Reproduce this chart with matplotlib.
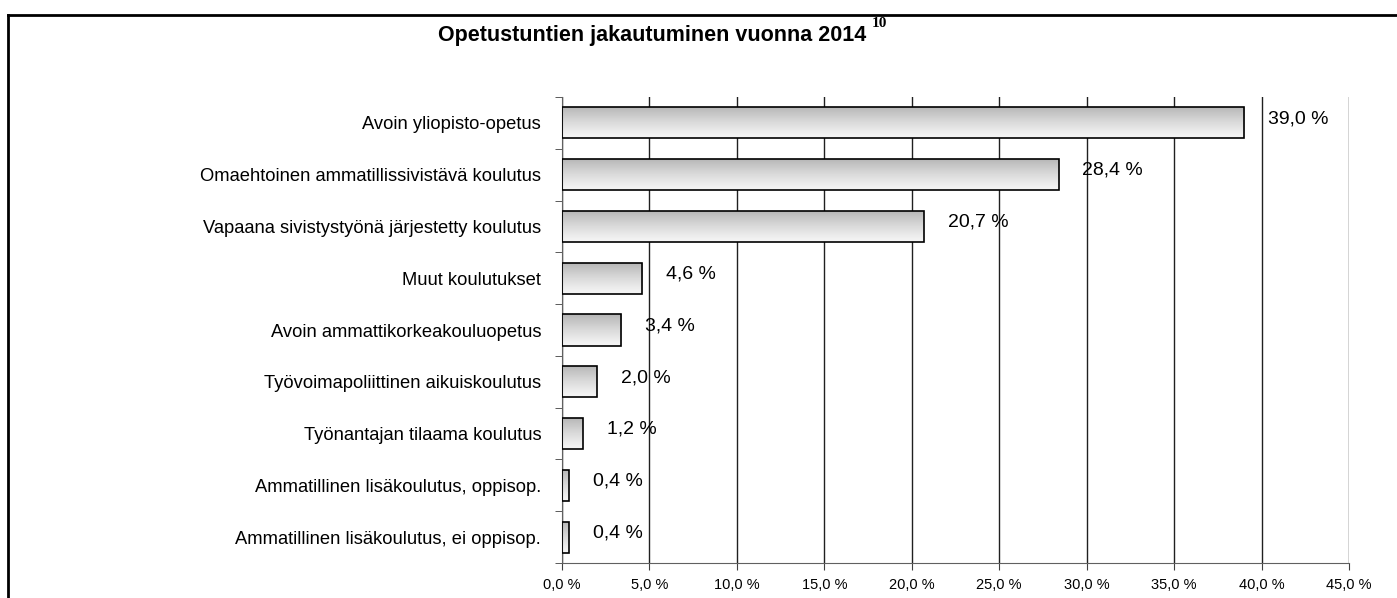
import numpy as np
import matplotlib.pyplot as plt
from matplotlib.lines import Line2D

plt.rcParams['font.family'] = ['Liberation Sans', 'DejaVu Sans']

categories = [
    "Avoin yliopisto-opetus",
    "Omaehtoinen ammatillissivistävä koulutus",
    "Vapaana sivistystyönä järjestetty koulutus",
    "Muut koulutukset",
    "Avoin ammattikorkeakouluopetus",
    "Työvoimapoliittinen aikuiskoulutus",
    "Työnantajan tilaama koulutus",
    "Ammatillinen lisäkoulutus, oppisop.",
    "Ammatillinen lisäkoulutus, ei oppisop.",
]
values = [39.0, 28.4, 20.7, 4.6, 3.4, 2.0, 1.2, 0.4, 0.4]
xticks = [0, 5, 10, 15, 20, 25, 30, 35, 40, 45]


def fmt(v):
    return f"{v:.1f}".replace(".", ",") + " %"


fig = plt.figure(figsize=(13.97, 5.98), dpi=100)
ax = fig.add_axes([0.4023, 0.0585, 0.5633, 0.7793])

y = np.arange(len(categories))
bars = ax.barh(y, values, height=0.6, color='none', edgecolor='black', linewidth=1.2, zorder=3)

# vertical gradient inside each bar (darker on top, lighter at bottom)
grad = np.linspace(0, 1, 100).reshape(-1, 1)
for b in bars:
    x0, y0 = b.get_x(), b.get_y()
    w, h = b.get_width(), b.get_height()
    im = ax.imshow(grad, cmap='Greys_r', vmin=-1.8, vmax=1.25, aspect='auto',
                   extent=[x0, x0 + w, y0 + h, y0], zorder=2, interpolation='bilinear')
    im.set_clip_path(b)

for yi, v in zip(y, values):
    ax.annotate(fmt(v), (v, yi), xytext=(17, 3), textcoords='offset points',
                ha='left', va='center', fontsize=14)

ax.set_xlim(0, 45)
ax.set_ylim(len(categories) - 0.5, -0.5)
ax.set_xticks(xticks)
ax.set_xticklabels([fmt(t) for t in xticks], fontsize=10.5)
ax.set_yticks(y)
ax.set_yticklabels(categories, fontsize=13.2)
ax.tick_params(axis='y', length=0, pad=15)
ax.set_yticks(np.arange(len(categories) + 1) - 0.5, minor=True)
ax.tick_params(axis='y', which='minor', length=5, direction='out', color='#404040')
ax.tick_params(axis='x', length=5, direction='out', color='#404040', pad=6)

ax.grid(axis='x', color='#202020', linewidth=1, zorder=1)
ax.set_axisbelow(True)
for s in ['top', 'right']:
    ax.spines[s].set_visible(False)
ax.spines['left'].set_color('#606060')
ax.spines['bottom'].set_color('#606060')
ax.plot([45, 45], [-0.5, len(categories) - 0.5], color='#e0e0e0', lw=1, zorder=1)

fig.text(0.4665, 0.940, "Opetustuntien jakautuminen vuonna 2014", ha='center', va='center',
         fontsize=15.5, fontweight='bold')
fig.text(0.624, 0.960, "10", ha='left', va='center', fontsize=11, fontweight='bold',
         family='Liberation Serif')

# outer frame
fig.add_artist(Line2D([0.0055, 1.0], [0.975, 0.975], color='black', lw=2, transform=fig.transFigure))
fig.add_artist(Line2D([0.0055, 0.0055], [0.0, 0.975], color='black', lw=2, transform=fig.transFigure))

fig.savefig('out.png', dpi=100)
